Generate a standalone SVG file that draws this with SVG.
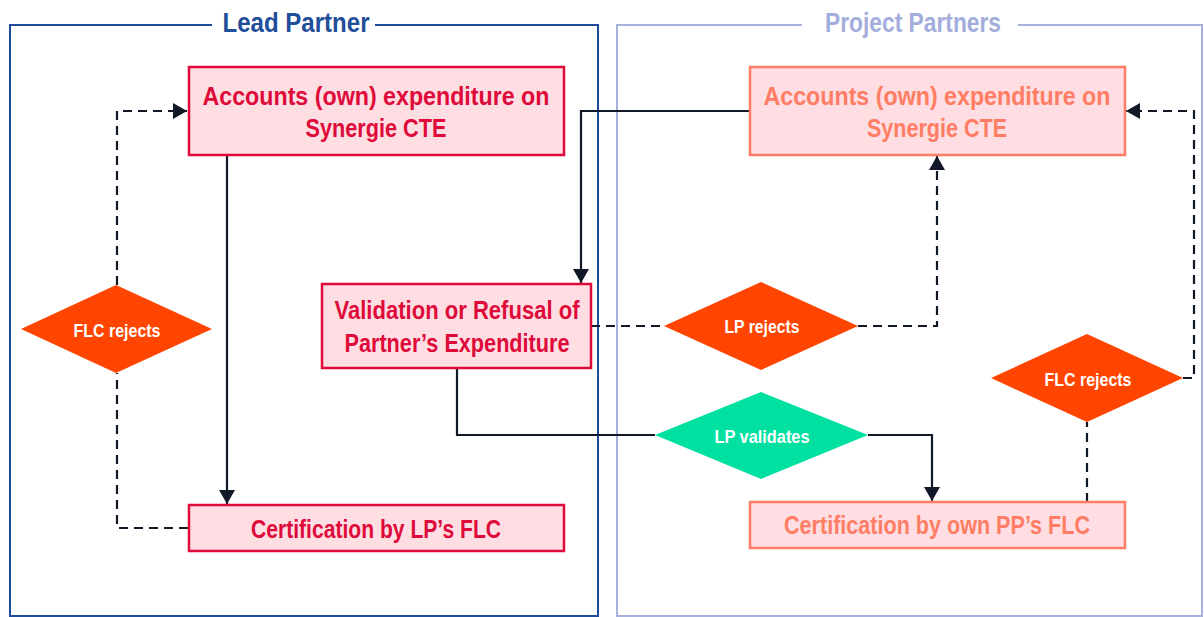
<svg xmlns="http://www.w3.org/2000/svg" width="1204" height="617" viewBox="0 0 1204 617">
<defs>
<style>
.lp{fill:#FEDDE3;stroke:#DE0B3A;stroke-width:2.5}
.pp{fill:#FEDDE3;stroke:#FF7D64;stroke-width:2.5}
.t{font-family:"Liberation Sans",Arial,sans-serif;font-weight:700;text-anchor:middle}
.tlp{fill:#DE0B3A;font-size:26px}
.tpp{fill:#FF7D64;font-size:26px}
.td{fill:#FFFFFF;font-size:18px}
.dia{fill:#FF4500}
.diag{fill:#00E0A0}
.c{fill:none;stroke:#111827;stroke-width:2.2}
.d{stroke-dasharray:9 6}
</style>
<marker id="arr" viewBox="0 0 14 16" refX="14" refY="8" markerWidth="14" markerHeight="16" markerUnits="userSpaceOnUse" orient="auto">
<path d="M0,0 L14,8 L0,16 z" fill="#111827"/>
</marker>
</defs>
<rect width="1204" height="617" fill="#FFFFFF"/>

<g id="lead-partner-lane">
<path d="M212,25 H10 V616 H598 V25 H375" fill="none" stroke="#1E4C9C" stroke-width="2"/>
<text class="t" x="296" y="32" font-size="27" fill="#1F4E9A" textLength="147" lengthAdjust="spacingAndGlyphs">Lead Partner</text>
</g>
<g id="project-partners-lane">
<path d="M802,25 H617 V616 H1202 V25 H1018" fill="none" stroke="#A7B1DE" stroke-width="2"/>
<text class="t" x="913" y="32" font-size="27" fill="#A3ADDC" textLength="176" lengthAdjust="spacingAndGlyphs">Project Partners</text>
</g>

<g id="connectors">
<path class="c" d="M227,155 V504" marker-end="url(#arr)"/>
<path class="c d" d="M188,528 H117 V373"/>
<path class="c d" d="M117,285 V111 H187" marker-end="url(#arr)"/>
<path class="c" d="M749,111 H581 V283" marker-end="url(#arr)"/>
<path class="c d" d="M591,326 H664"/>
<path class="c d" d="M858,326 H937 V156" marker-end="url(#arr)"/>
<path class="c" d="M457,368 V435 H655"/>
<path class="c" d="M868,435 H932 V501" marker-end="url(#arr)"/>
<path class="c d" d="M1087,502 V422"/>
<path class="c d" d="M1183,378 H1194 V111 H1126" marker-end="url(#arr)"/>
</g>

<g id="lp-accounts">
<rect class="lp" x="189" y="67" width="375" height="88"/>
<text class="t tlp" x="376" y="105" textLength="347" lengthAdjust="spacingAndGlyphs">Accounts (own) expenditure on</text>
<text class="t tlp" x="376" y="137" textLength="141" lengthAdjust="spacingAndGlyphs">Synergie CTE</text>
</g>
<g id="pp-accounts">
<rect class="pp" x="750" y="67" width="375" height="88"/>
<text class="t tpp" x="937" y="105" textLength="347" lengthAdjust="spacingAndGlyphs">Accounts (own) expenditure on</text>
<text class="t tpp" x="937" y="137" textLength="140" lengthAdjust="spacingAndGlyphs">Synergie CTE</text>
</g>
<g id="validation">
<rect class="lp" x="322" y="284" width="269" height="84"/>
<text class="t tlp" x="457" y="319" textLength="245" lengthAdjust="spacingAndGlyphs">Validation or Refusal of</text>
<text class="t tlp" x="457" y="352" textLength="225" lengthAdjust="spacingAndGlyphs">Partner’s Expenditure</text>
</g>
<g id="lp-certification">
<rect class="lp" x="189" y="505" width="375" height="46"/>
<text class="t tlp" x="376" y="538" textLength="250" lengthAdjust="spacingAndGlyphs">Certification by LP’s FLC</text>
</g>
<g id="pp-certification">
<rect class="pp" x="750" y="502" width="375" height="46"/>
<text class="t tpp" x="937" y="534" textLength="306" lengthAdjust="spacingAndGlyphs">Certification by own PP’s FLC</text>
</g>
<g id="lp-flc-rejects">
<polygon class="dia" points="21,329 116,285 212,329 116,373"/>
<text class="t td" x="117" y="337" textLength="87" lengthAdjust="spacingAndGlyphs">FLC rejects</text>
</g>
<g id="lp-rejects">
<polygon class="dia" points="664,326 761,282 858,326 761,370"/>
<text class="t td" x="762" y="333" textLength="75" lengthAdjust="spacingAndGlyphs">LP rejects</text>
</g>
<g id="lp-validates">
<polygon class="diag" points="655,435 761,392 868,435 761,479"/>
<text class="t td" x="762" y="443" textLength="95" lengthAdjust="spacingAndGlyphs">LP validates</text>
</g>
<g id="pp-flc-rejects">
<polygon class="dia" points="991,378 1087,334 1183,378 1087,422"/>
<text class="t td" x="1088" y="386" textLength="87" lengthAdjust="spacingAndGlyphs">FLC rejects</text>
</g>
</svg>
